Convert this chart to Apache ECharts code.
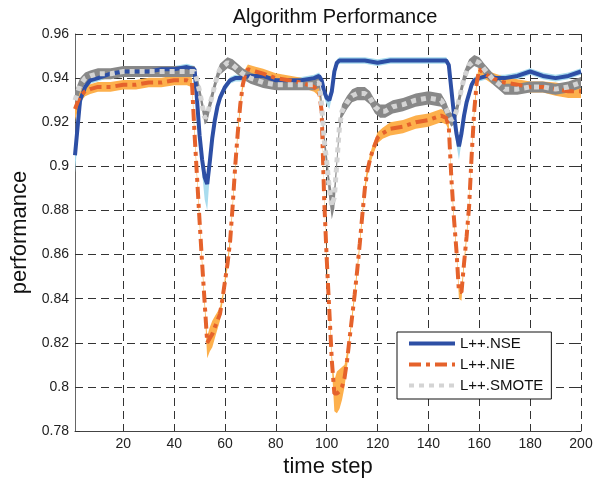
<!DOCTYPE html>
<html>
<head>
<meta charset="utf-8">
<script src="https://cdn.jsdelivr.net/npm/echarts@6/dist/echarts.min.js"></script>
<style>
  html, body { margin: 0; padding: 0; background: #fff; }
  #main { width: 596px; height: 478px; }
</style>
</head>
<body>
<div id="main"></div>
<script>
// values, time step -> performance

// L++.NSE
var nseX = [1, 3, 5, 7, 10, 15, 20, 25, 30, 35, 40, 45, 48, 49, 50, 51, 52, 53, 54, 55,
  56, 57, 58, 60, 62, 64, 66, 70, 75, 80, 85, 90, 95, 97, 98, 99, 100, 101, 102, 103,
  104, 105, 107, 110, 115, 120, 125, 130, 135, 140, 145, 147, 148, 149, 150, 151, 152, 153, 154, 155,
  156, 157, 158, 160, 163, 166, 170, 175, 180, 185, 190, 195, 200];
var nseY = [0.905, 0.930, 0.936, 0.939, 0.940, 0.942, 0.943, 0.943, 0.943, 0.944, 0.944, 0.945, 0.944, 0.930, 0.914, 0.903, 0.895, 0.892, 0.902, 0.913,
  0.921, 0.927, 0.931, 0.936, 0.939, 0.940, 0.940, 0.941, 0.941, 0.939, 0.939, 0.939, 0.940, 0.941, 0.939, 0.934, 0.931, 0.930, 0.934, 0.943,
  0.947, 0.948, 0.948, 0.948, 0.948, 0.947, 0.948, 0.948, 0.948, 0.948, 0.948, 0.948, 0.946, 0.935, 0.924, 0.915, 0.909, 0.915, 0.923, 0.929,
  0.933, 0.937, 0.939, 0.940, 0.941, 0.940, 0.940, 0.941, 0.943, 0.941, 0.940, 0.941, 0.943];
var nseDn = [0.008, 0.004, 0.002, 0.0015, 0.0015, 0.0015, 0.0015, 0.0015, 0.0015, 0.0015, 0.0015, 0.0015, 0.0015, 0.003, 0.004, 0.006, 0.010, 0.012, 0.006, 0.003,
  0.002, 0.002, 0.002, 0.002, 0.0015, 0.0015, 0.0015, 0.0015, 0.0015, 0.0015, 0.0015, 0.0015, 0.0015, 0.0015, 0.002, 0.003, 0.003, 0.004, 0.003, 0.002,
  0.0015, 0.0015, 0.0015, 0.0015, 0.0015, 0.0015, 0.0015, 0.0015, 0.0015, 0.0015, 0.0015, 0.0015, 0.002, 0.003, 0.004, 0.005, 0.006, 0.004, 0.003, 0.002,
  0.002, 0.002, 0.0015, 0.0015, 0.0015, 0.0015, 0.0015, 0.0015, 0.0015, 0.0015, 0.0015, 0.0015, 0.0015];
var nseUp = 0.0015;

// L++.NIE
var nieX = [1, 3, 5, 7, 10, 15, 20, 25, 30, 35, 40, 45, 47, 48, 49, 50, 51, 52, 53, 54,
  55, 56, 57, 58, 59, 60, 61, 62, 63, 64, 65, 66, 67, 68, 69, 72, 75, 80, 85, 90,
  95, 97, 98, 99, 100, 101, 102, 103, 104, 105, 106, 107, 108, 109, 110, 111, 112, 113, 114, 115,
  116, 117, 118, 120, 122, 125, 130, 135, 140, 145, 147, 148, 149, 150, 151, 152, 153, 154, 155, 156,
  157, 158, 159, 160, 162, 165, 170, 175, 180, 185, 190, 195, 200];
var nieY = [0.926, 0.932, 0.934, 0.935, 0.936, 0.936, 0.937, 0.937, 0.938, 0.938, 0.939, 0.939, 0.938, 0.915, 0.895, 0.875, 0.856, 0.838, 0.820, 0.822,
  0.824, 0.827, 0.830, 0.833, 0.840, 0.848, 0.856, 0.866, 0.882, 0.900, 0.915, 0.928, 0.937, 0.942, 0.944, 0.943, 0.942, 0.940, 0.939, 0.938,
  0.936, 0.934, 0.925, 0.885, 0.858, 0.835, 0.812, 0.797, 0.797, 0.798, 0.800, 0.804, 0.812, 0.822, 0.832, 0.842, 0.853, 0.865, 0.878, 0.890,
  0.898, 0.903, 0.907, 0.913, 0.915, 0.917, 0.918, 0.920, 0.921, 0.923, 0.922, 0.918, 0.895, 0.877, 0.862, 0.843, 0.843, 0.856, 0.868, 0.882,
  0.905, 0.925, 0.938, 0.944, 0.942, 0.940, 0.938, 0.937, 0.936, 0.936, 0.935, 0.934, 0.934];
var nieDn = [0.005, 0.003, 0.0022, 0.0022, 0.0022, 0.0022, 0.0022, 0.0022, 0.0022, 0.0022, 0.0022, 0.0022, 0.0022, 0.0022, 0.002, 0.002, 0.002, 0.003, 0.007, 0.006,
  0.006, 0.005, 0.004, 0.003, 0.002, 0.002, 0.002, 0.002, 0.002, 0.002, 0.002, 0.002, 0.0022, 0.0022, 0.0022, 0.0022, 0.0022, 0.0022, 0.0022, 0.0022,
  0.0022, 0.0022, 0.002, 0.002, 0.002, 0.002, 0.003, 0.008, 0.009, 0.008, 0.006, 0.004, 0.003, 0.002, 0.002, 0.002, 0.002, 0.002, 0.002, 0.002,
  0.0025, 0.0025, 0.0025, 0.0025, 0.0025, 0.003, 0.003, 0.003, 0.003, 0.003, 0.003, 0.002, 0.002, 0.002, 0.002, 0.003, 0.004, 0.002, 0.002, 0.002,
  0.002, 0.002, 0.0022, 0.0022, 0.0022, 0.0025, 0.0025, 0.0025, 0.0025, 0.0025, 0.003, 0.003, 0.003];
var nieUp = [0.003, 0.003, 0.0022, 0.0022, 0.0022, 0.0022, 0.0022, 0.0022, 0.0022, 0.0022, 0.0022, 0.0022, 0.0022, 0.0022, 0.002, 0.002, 0.002, 0.002, 0.003, 0.005,
  0.006, 0.005, 0.004, 0.003, 0.002, 0.002, 0.002, 0.002, 0.002, 0.002, 0.002, 0.002, 0.0022, 0.0022, 0.0022, 0.0022, 0.0022, 0.0022, 0.0022, 0.0022,
  0.0022, 0.0022, 0.002, 0.002, 0.002, 0.002, 0.003, 0.006, 0.010, 0.010, 0.009, 0.006, 0.004, 0.002, 0.002, 0.002, 0.002, 0.002, 0.002, 0.002,
  0.0025, 0.0025, 0.0025, 0.0025, 0.0025, 0.003, 0.003, 0.003, 0.003, 0.003, 0.003, 0.002, 0.002, 0.002, 0.002, 0.002, 0.002, 0.002, 0.002, 0.002,
  0.002, 0.002, 0.0022, 0.0022, 0.0022, 0.0025, 0.0025, 0.0025, 0.0025, 0.0025, 0.003, 0.003, 0.003];

// L++.SMOTE
var smX = [1, 3, 5, 7, 10, 15, 20, 25, 30, 35, 40, 45, 48, 49, 50, 51, 52, 53, 54, 55,
  56, 57, 58, 60, 61, 63, 65, 67, 70, 75, 80, 85, 90, 95, 97, 98, 99, 100, 101, 102,
  103, 104, 105, 106, 108, 110, 112, 115, 117, 119, 121, 123, 126, 130, 135, 140, 145, 147, 148, 149,
  150, 151, 152, 153, 154, 156, 158, 160, 162, 165, 168, 170, 175, 180, 185, 190, 195, 200];
var smY = [0.930, 0.937, 0.940, 0.941, 0.942, 0.942, 0.943, 0.943, 0.943, 0.943, 0.943, 0.943, 0.943, 0.939, 0.934, 0.928, 0.922, 0.923, 0.928, 0.932,
  0.937, 0.941, 0.944, 0.946, 0.947, 0.946, 0.944, 0.942, 0.940, 0.938, 0.937, 0.937, 0.937, 0.937, 0.938, 0.928, 0.912, 0.902, 0.890, 0.882,
  0.886, 0.902, 0.918, 0.925, 0.929, 0.932, 0.933, 0.933, 0.931, 0.927, 0.925, 0.925, 0.927, 0.928, 0.930, 0.931, 0.930, 0.926, 0.923, 0.921,
  0.922, 0.925, 0.930, 0.935, 0.940, 0.946, 0.948, 0.947, 0.944, 0.940, 0.937, 0.935, 0.935, 0.936, 0.936, 0.935, 0.936, 0.938];
var smErr = [0.004, 0.003, 0.0025, 0.0025, 0.0025, 0.0025, 0.0025, 0.0025, 0.0025, 0.0025, 0.0025, 0.0025, 0.0025, 0.0025, 0.0025, 0.003, 0.003, 0.003, 0.003, 0.003,
  0.0025, 0.0025, 0.0025, 0.0025, 0.0025, 0.0025, 0.0025, 0.0025, 0.0025, 0.0025, 0.0025, 0.0025, 0.0025, 0.0025, 0.0025, 0.003, 0.003, 0.004, 0.005, 0.006,
  0.005, 0.003, 0.003, 0.003, 0.003, 0.003, 0.003, 0.003, 0.003, 0.003, 0.003, 0.003, 0.003, 0.003, 0.003, 0.003, 0.003, 0.003, 0.003, 0.003,
  0.003, 0.003, 0.003, 0.003, 0.003, 0.0025, 0.0025, 0.0025, 0.0025, 0.0025, 0.0025, 0.0025, 0.0025, 0.0025, 0.0025, 0.0025, 0.0025, 0.0025];

var xTicks = [20, 40, 60, 80, 100, 120, 140, 160, 180, 200];
var names = ['L++.NSE', 'L++.NIE', 'L++.SMOTE'];

var font = 'Liberation Sans';

function pick(a, i) { return Array.isArray(a) ? a[i] : a; }

function pairs(xs, ys) {
  return xs.map(function (x, i) { return [x, ys[i]]; });
}

// shaded band drawn as one polygon through the axes' coord()
function band(xs, ys, dn, up, color) {
  return {
    type: 'custom',
    silent: true,
    clip: true,
    data: [[100, 0.9]],
    renderItem: function (params, api) {
      var top = [], bot = [];
      for (var i = 0; i < xs.length; i++) {
        top.push(api.coord([xs[i], ys[i] + pick(up, i)]));
        bot.push(api.coord([xs[i], ys[i] - pick(dn, i)]));
      }
      return {
        type: 'polygon',
        shape: { points: top.concat(bot.reverse()) },
        style: { fill: color }
      };
    }
  };
}

var myChart = echarts.init(document.getElementById('main'));
myChart.setOption({
  animation: false,
  backgroundColor: '#fff',
  title: {
    text: 'Algorithm Performance',
    left: 330,
    textAlign: 'center',
    top: 2,
    textStyle: { fontFamily: font, fontSize: 20, fontWeight: 'normal', color: '#111' }
  },
  grid: { left: 75, right: 15, top: 34, bottom: 47, outerBoundsMode: 'none' },
  legend: {
    data: names,
    orient: 'vertical',
    left: 397,
    top: 332,
    padding: [4, 8, 6, 10],
    itemGap: 6,
    itemWidth: 46,
    itemHeight: 16,
    borderColor: '#111',
    borderWidth: 1,
    borderRadius: 0,
    backgroundColor: '#fff',
    itemStyle: { opacity: 0 },
    lineStyle: { width: 4 },
    textStyle: { fontFamily: font, fontSize: 15, color: '#111' }
  },
  xAxis: [
    {
      type: 'value',
      min: 1,
      max: 200,
      name: 'time step',
      nameLocation: 'middle',
      nameGap: 23,
      nameTextStyle: { fontFamily: font, fontSize: 22, color: '#111' },
      axisLine: { lineStyle: { color: '#444' } },
      axisTick: { inside: true, length: 5, customValues: xTicks, lineStyle: { color: '#333' } },
      axisLabel: { customValues: xTicks, margin: 6, fontFamily: font, fontSize: 14, color: '#222' },
      splitLine: { show: true, lineStyle: { color: '#333', type: [8, 5] } }
    },
    {
      type: 'value',
      position: 'top',
      min: 1,
      max: 200,
      axisLine: { show: false },
      axisTick: { inside: true, length: 5, customValues: xTicks, lineStyle: { color: '#333' } },
      axisLabel: { show: false },
      splitLine: { show: false }
    }
  ],
  yAxis: [
    {
      type: 'value',
      min: 0.78,
      max: 0.96,
      interval: 0.02,
      name: 'performance',
      nameLocation: 'middle',
      nameGap: 42,
      nameTextStyle: { fontFamily: font, fontSize: 22, color: '#111' },
      axisLine: { show: true, lineStyle: { color: '#666' } },
      axisTick: { show: true, inside: true, length: 5, lineStyle: { color: '#333' } },
      axisLabel: { margin: 6, fontFamily: font, fontSize: 14, color: '#222' },
      splitLine: { show: true, lineStyle: { color: '#333', type: [8, 5] } }
    },
    {
      type: 'value',
      position: 'right',
      min: 0.78,
      max: 0.96,
      interval: 0.02,
      axisLine: { show: false },
      axisTick: { show: true, inside: true, length: 5, lineStyle: { color: '#333' } },
      axisLabel: { show: false },
      splitLine: { show: false }
    }
  ],
  series: [
    band(nseX, nseY, nseDn, nseUp, '#a9dcee'),
    band(nieX, nieY, nieDn, nieUp, '#fdb04c'),
    band(smX, smY, smErr, smErr, '#888888'),
    {
      name: names[0],
      type: 'line',
      symbol: 'none',
      data: pairs(nseX, nseY),
      lineStyle: { color: '#2d4fa5', width: 4 },
      itemStyle: { color: '#2d4fa5' }
    },
    {
      name: names[1],
      type: 'line',
      symbol: 'none',
      data: pairs(nieX, nieY),
      lineStyle: { color: '#e5622b', width: 4, type: [12, 5, 4, 5] },
      itemStyle: { color: '#e5622b' }
    },
    {
      name: names[2],
      type: 'line',
      symbol: 'none',
      data: pairs(smX, smY),
      lineStyle: { color: '#d4d4d4', width: 5, type: [5, 5] },
      itemStyle: { color: '#d4d4d4' }
    }
  ]
});
</script>
</body>
</html>
